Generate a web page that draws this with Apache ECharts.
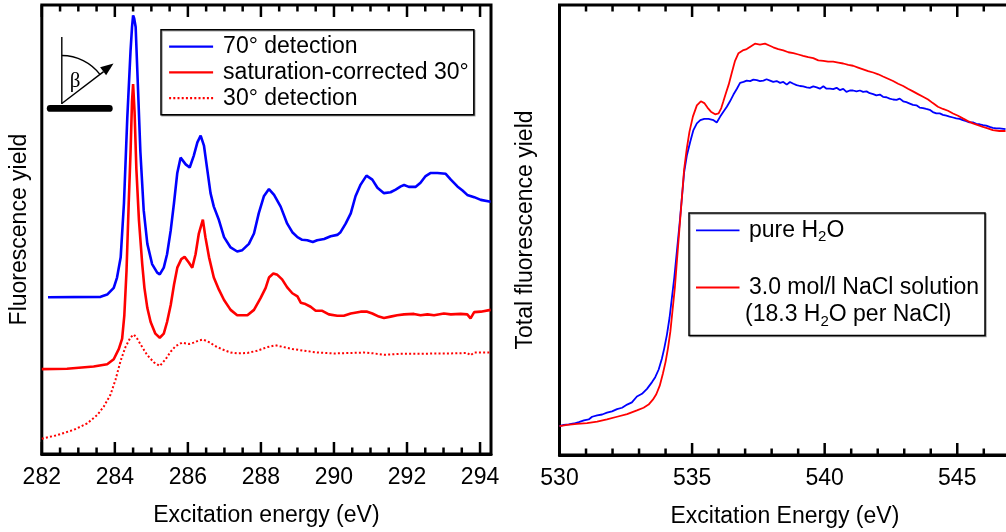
<!DOCTYPE html>
<html>
<head>
<meta charset="utf-8">
<script src="https://cdn.jsdelivr.net/npm/echarts/dist/echarts.min.js"></script>
<style>
  html, body { margin: 0; padding: 0; background: #fff; }
  #chart { width: 1006px; height: 532px; }
</style>
</head>
<body>
<div id="chart"></div>
<script>
// ---- Carbon K-edge (left panel): [excitation energy eV, yield a.u.] ----
const carbon70 = [
  [282.17,34.9],[283.61,35.0],[283.79,35.5],[283.97,37.0],[284.06,39.3],[284.16,43.8],[284.25,55.9],
  [284.34,74.7],[284.43,89.8],[284.47,95.0],[284.50,97.7],[284.53,97.0],[284.57,95.1],[284.63,82.3],
  [284.70,67.2],[284.79,54.3],[284.89,46.8],[285.02,42.3],[285.16,40.4],[285.23,40.0],[285.34,41.5],
  [285.43,44.5],[285.53,49.8],[285.62,55.9],[285.71,62.6],[285.80,66.0],[285.94,64.5],[286.05,63.8],
  [286.16,66.4],[286.26,69.4],[286.35,70.9],[286.44,68.7],[286.53,63.4],[286.62,58.1],[286.71,55.1],
  [286.85,52.1],[286.99,48.3],[287.17,46.0],[287.35,45.1],[287.49,45.4],[287.67,46.8],[287.81,49.1],
  [287.94,53.6],[288.08,57.4],[288.22,59.0],[288.36,57.7],[288.54,55.1],[288.72,51.3],[288.86,49.4],
  [289.00,48.3],[289.13,47.7],[289.27,47.6],[289.42,47.2],[289.54,47.6],[289.73,47.9],[289.91,48.5],
  [290.09,48.8],[290.18,49.4],[290.32,51.3],[290.46,53.6],[290.59,57.4],[290.73,60.0],[290.89,62.0],
  [291.05,61.1],[291.19,59.3],[291.37,58.1],[291.55,58.3],[291.69,58.9],[291.83,59.6],[291.92,59.9],
  [292.05,59.5],[292.24,59.5],[292.37,60.4],[292.51,61.9],[292.65,62.6],[292.83,62.6],[293.06,62.4],
  [293.20,61.1],[293.38,59.6],[293.52,58.7],[293.65,57.7],[293.84,57.2],[294.02,56.6],[294.29,56.2]
];
const carbonCorrected = [
  [282.00,18.9],[282.69,19.0],[283.42,19.5],[283.79,20.0],[283.97,21.1],[284.11,23.4],[284.20,25.7],
  [284.26,30.9],[284.32,40.8],[284.38,55.9],[284.43,67.2],[284.47,78.5],[284.50,82.4],[284.54,76.2],
  [284.59,63.4],[284.66,52.1],[284.75,42.3],[284.81,37.0],[284.89,32.5],[284.98,29.4],[285.11,26.8],
  [285.23,25.9],[285.34,26.8],[285.43,29.4],[285.53,33.2],[285.62,37.7],[285.71,41.5],[285.82,43.4],
  [285.91,43.9],[286.03,42.6],[286.12,41.5],[286.21,44.5],[286.30,49.1],[286.41,52.2],[286.48,48.3],
  [286.58,43.8],[286.71,39.3],[286.85,36.6],[286.99,34.3],[287.17,32.1],[287.35,30.9],[287.63,30.9],
  [287.81,32.1],[287.99,34.7],[288.13,37.0],[288.22,39.3],[288.34,40.2],[288.45,39.9],[288.58,38.9],
  [288.72,37.1],[288.86,35.8],[289.00,35.1],[289.09,33.7],[289.22,33.4],[289.36,32.8],[289.50,31.9],
  [289.68,31.9],[289.86,31.1],[290.09,30.8],[290.27,30.8],[290.46,31.3],[290.73,31.7],[290.91,31.7],
  [291.05,31.3],[291.23,30.6],[291.37,30.3],[291.55,30.6],[291.73,30.9],[291.92,31.1],[292.19,31.2],
  [292.37,30.9],[292.56,31.1],[292.74,30.9],[293.01,31.3],[293.20,31.1],[293.47,31.2],[293.65,31.1],
  [293.74,30.2],[293.84,31.6],[294.02,31.7],[294.29,32.1]
];
const carbon30 = [
  [282.00,3.4],[282.42,4.2],[282.88,5.4],[283.24,6.8],[283.52,8.7],[283.70,10.6],[283.88,13.2],
  [284.02,16.6],[284.16,20.8],[284.29,23.8],[284.43,26.0],[284.52,26.6],[284.61,25.7],[284.75,23.8],
  [284.89,22.0],[285.07,20.4],[285.23,19.6],[285.39,21.1],[285.53,22.8],[285.66,24.0],[285.84,24.8],
  [286.03,24.5],[286.16,24.8],[286.30,25.3],[286.42,25.5],[286.58,24.9],[286.76,24.0],[286.94,23.3],
  [287.17,22.6],[287.35,22.4],[287.63,22.5],[287.90,23.0],[288.17,23.8],[288.40,24.2],[288.63,23.8],
  [288.86,23.4],[289.18,23.0],[289.54,22.6],[290.00,22.4],[290.46,22.5],[290.82,22.6],[291.10,22.4],
  [291.37,22.1],[291.83,22.3],[292.37,22.3],[292.74,22.4],[293.20,22.4],[293.65,22.5],[293.74,22.0],
  [293.84,22.6],[294.29,22.6]
];

// ---- Oxygen K-edge (right panel): [excitation energy eV, total fluorescence yield a.u.] ----
const oxygenWater = [
  [530.00,6.4],[530.16,6.7],[530.35,6.8],[530.54,7.0],[530.73,7.3],[530.92,7.7],[531.10,7.9],
  [531.23,8.5],[531.42,8.8],[531.61,9.0],[531.79,9.4],[531.98,9.7],[532.17,10.2],[532.36,10.5],
  [532.55,11.2],[532.73,11.7],[532.92,13.0],[533.11,13.6],[533.30,14.7],[533.49,16.2],[533.61,17.3],
  [533.74,19.0],[533.86,21.4],[533.95,23.7],[534.05,26.7],[534.15,30.5],[534.24,35.0],[534.33,39.5],
  [534.43,45.5],[534.53,51.5],[534.62,57.5],[534.70,62.8],[534.80,66.5],[534.93,69.6],[535.05,72.2],
  [535.18,73.7],[535.31,74.4],[535.46,74.7],[535.62,74.7],[535.81,74.4],[535.93,73.9],[536.06,75.2],
  [536.18,76.3],[536.31,77.4],[536.43,78.6],[536.56,80.1],[536.69,81.4],[536.81,82.7],[536.94,82.9],
  [537.06,83.2],[537.19,83.1],[537.31,83.4],[537.44,83.3],[537.56,83.1],[537.69,83.2],[537.81,83.5],
  [537.94,83.2],[538.06,82.9],[538.19,83.1],[538.32,82.7],[538.44,82.9],[538.57,82.3],[538.69,82.9],
  [538.82,82.5],[538.94,82.2],[539.07,82.0],[539.19,81.9],[539.32,81.7],[539.44,81.6],[539.57,81.9],
  [539.70,81.7],[539.82,81.4],[539.95,81.95],[540.07,81.4],[540.20,81.4],[540.32,81.3],[540.45,81.6],
  [540.57,81.1],[540.70,81.35],[540.82,80.7],[540.95,81.0],[541.07,81.0],[541.20,80.8],[541.33,81.0],
  [541.45,80.7],[541.58,80.8],[541.70,80.4],[541.83,80.2],[541.95,79.9],[542.08,80.1],[542.20,79.6],
  [542.33,79.5],[542.45,79.2],[542.58,79.0],[542.71,78.9],[542.83,79.2],[542.96,78.6],[543.08,78.4],
  [543.21,78.1],[543.33,77.8],[543.46,77.7],[543.58,77.2],[543.71,77.1],[543.83,76.9],[543.96,76.7],
  [544.08,76.2],[544.21,75.9],[544.34,75.9],[544.46,75.6],[544.59,75.4],[544.71,75.2],[544.84,75.0],
  [544.96,74.8],[545.09,74.7],[545.21,74.4],[545.34,74.2],[545.46,73.9],[545.59,73.9],[545.72,73.6],
  [545.84,73.5],[545.97,73.3],[546.09,73.2],[546.22,72.9],[546.34,72.7],[546.47,72.6],[546.59,72.6],
  [546.82,72.4]
];
const oxygenNaCl = [
  [530.00,6.4],[530.29,6.7],[530.66,6.9],[531.04,7.1],[531.42,7.4],[531.79,7.9],[532.17,8.5],
  [532.55,9.1],[532.92,9.9],[533.17,10.5],[533.36,11.2],[533.52,12.3],[533.65,13.5],[533.78,15.4],
  [533.90,18.1],[534.00,20.7],[534.09,23.7],[534.18,27.4],[534.26,32.0],[534.35,37.2],[534.44,44.0],
  [534.53,50.8],[534.62,57.5],[534.70,63.5],[534.80,68.1],[534.90,71.8],[535.03,75.2],[535.18,77.7],
  [535.33,78.6],[535.46,78.2],[535.58,77.2],[535.71,76.3],[535.87,75.7],[536.00,75.9],[536.10,77.1],
  [536.18,78.6],[536.28,80.5],[536.38,82.3],[536.50,85.0],[536.62,87.6],[536.75,89.3],[536.91,89.9],
  [537.06,90.2],[537.21,90.8],[537.37,91.4],[537.56,91.2],[537.75,91.4],[537.91,91.0],[538.06,90.6],
  [538.25,90.2],[538.44,89.9],[538.63,89.5],[538.82,89.3],[539.01,89.0],[539.19,88.7],[539.38,88.4],
  [539.57,88.2],[539.76,87.7],[539.95,87.6],[540.13,87.4],[540.32,87.4],[540.51,87.2],[540.70,87.0],
  [540.89,86.7],[541.07,86.5],[541.26,86.1],[541.45,85.7],[541.64,85.3],[541.83,85.0],[542.02,84.6],
  [542.20,84.1],[542.39,83.6],[542.58,83.1],[542.77,82.5],[542.96,82.0],[543.14,81.4],[543.33,80.8],
  [543.52,80.2],[543.71,79.6],[543.90,79.0],[544.08,78.2],[544.27,77.4],[544.46,76.9],[544.65,76.5],
  [544.84,75.9],[545.03,75.4],[545.21,74.8],[545.40,74.2],[545.59,73.7],[545.78,73.3],[545.97,72.9],
  [546.15,72.6],[546.34,72.2],[546.59,72.0],[546.82,72.0]
];

// ---- Axis tick labels (major ticks) and minor tick spacing ----
const carbonTicks = [282, 284, 286, 288, 290, 292, 294];
const oxygenTicks = [530, 535, 540, 545];
const carbonMinorStep = 0.5;
const oxygenMinorStep = 1;

// ---- Series / legend names ----
const carbonNames = ['70° detection', 'saturation-corrected 30°', '30° detection'];
const oxygenNames = ['pure H₂O', '3.0 mol/l NaCl solution (18.3 H₂O per NaCl)'];

const FONT = 'Liberation Sans, Arial, Helvetica, sans-serif';
const FS = 23;
const BLUE = '#0000ff';
const RED = '#ff0000';
const INK = '#000';
const MAJOR_LEN = 12;
const MINOR_LEN = 6.5;

const chart = echarts.init(document.getElementById('chart'));

function labelledX(gridIndex, min, max, major, ticks, title) {
  return {
    gridIndex, type: 'value', min, max, interval: major, position: 'bottom',
    axisLine: { show: true, onZero: false, lineStyle: { color: INK, width: 3 } },
    axisTick: { show: false },
    splitLine: { show: false },
    axisLabel: {
      show: true, margin: 12, fontSize: FS, fontFamily: FONT, color: INK,
      formatter: v => (ticks.some(t => Math.abs(t - v) < 1e-6) ? String(Math.round(v)) : '')
    },
    name: title, nameLocation: 'middle', nameGap: 50,
    nameTextStyle: { fontSize: FS, fontFamily: FONT, color: INK }
  };
}

function hiddenY(gridIndex, title, nameGap) {
  return {
    gridIndex, type: 'value', min: 0, max: 100,
    axisLine: { show: false, onZero: false }, axisTick: { show: false },
    axisLabel: { show: false }, splitLine: { show: false },
    name: title, nameLocation: 'middle', nameGap,
    nameTextStyle: { fontSize: FS, fontFamily: FONT, color: INK }
  };
}

const richBase = { fontSize: FS, fontFamily: FONT, fill: INK };
const richSub = { fontSize: 15, fontFamily: FONT, fill: INK, padding: [14, 0, 0, 0] };

const option = {
  animation: false,
  grid: [
    { left: 41.8, top: 5, width: 449.2, height: 449, show: true, borderColor: INK, borderWidth: 3, outerBoundsMode: 'none' },
    { left: 559.5, top: 5, width: 450.8, height: 450, show: true, borderColor: INK, borderWidth: 3, outerBoundsMode: 'none' }
  ],
  xAxis: [
    labelledX(0, 282, 294.3, 2, carbonTicks, 'Excitation energy (eV)'),
    labelledX(1, 530, 547, 5, oxygenTicks, 'Excitation Energy (eV)')
  ],
  yAxis: [
    hiddenY(0, 'Fluorescence yield', 11),
    hiddenY(1, 'Total fluorescence yield', 22.5)
  ],
  legend: [{
    data: carbonNames,
    orient: 'vertical', left: 161, top: 29.7,
    itemWidth: 44, itemHeight: 14, itemGap: 2.75,
    padding: [5.5, 5, 5, 7],
    borderColor: INK, borderWidth: 1.5, borderRadius: 0, backgroundColor: '#fff',
    shadowColor: 'rgba(0,0,0,0.35)', shadowOffsetX: 1, shadowOffsetY: 1,
    selectedMode: false,
    itemStyle: { opacity: 0 },
    lineStyle: { width: 2.2 },
    textStyle: { fontSize: FS, fontFamily: FONT, color: INK, padding: [0, 0, 0, 5] }
  }],
  series: [
    { name: carbonNames[0], type: 'line', xAxisIndex: 0, yAxisIndex: 0, data: carbon70,
      symbol: 'none', lineStyle: { color: BLUE, width: 2.6 }, itemStyle: { color: BLUE } },
    { name: carbonNames[1], type: 'line', xAxisIndex: 0, yAxisIndex: 0, data: carbonCorrected,
      symbol: 'none', lineStyle: { color: RED, width: 2.6 }, itemStyle: { color: RED } },
    { name: carbonNames[2], type: 'line', xAxisIndex: 0, yAxisIndex: 0, data: carbon30,
      symbol: 'none', lineStyle: { color: RED, width: 2, type: [2, 2.2] }, itemStyle: { color: RED } },
    { name: oxygenNames[0], type: 'line', xAxisIndex: 1, yAxisIndex: 1, data: oxygenWater,
      symbol: 'none', lineStyle: { color: BLUE, width: 1.8 }, itemStyle: { color: BLUE } },
    { name: oxygenNames[1], type: 'line', xAxisIndex: 1, yAxisIndex: 1, data: oxygenNaCl,
      symbol: 'none', lineStyle: { color: RED, width: 1.8 }, itemStyle: { color: RED } }
  ],
  graphic: [
    // detection-geometry sketch: surface, normal, angle arc and outgoing arrow
    { type: 'line', shape: { x1: 61.8, y1: 37, x2: 61.8, y2: 104 }, style: { stroke: INK, lineWidth: 1.4 } },
    { type: 'line', shape: { x1: 50.2, y1: 108.4, x2: 109.3, y2: 108.4 }, style: { stroke: INK, lineWidth: 6.8, lineCap: 'round' } },
    { type: 'arc', shape: { cx: 61.8, cy: 103.5, r: 48, startAngle: -Math.PI / 2, endAngle: -0.645, clockwise: true },
      style: { stroke: INK, lineWidth: 1.4, fill: null } },
    { type: 'line', shape: { x1: 61.8, y1: 103.5, x2: 103.6, y2: 71.6 }, style: { stroke: INK, lineWidth: 1.4 } },
    { type: 'polygon', shape: { points: [[113.5, 63.5], [106.1, 75.3], [100.1, 67.3]] }, style: { fill: INK } },
    { type: 'text', x: 75, y: 81.5,
      style: { text: 'β', fontSize: 21, fontFamily: 'Liberation Serif, DejaVu Serif, serif', fill: INK, align: 'center', verticalAlign: 'middle' } },

    // oxygen-edge legend
    { type: 'rect', shape: { x: 689, y: 213, width: 296, height: 122.5 },
      style: { fill: '#fff', stroke: INK, lineWidth: 1.5, shadowColor: 'rgba(0,0,0,0.35)', shadowOffsetX: 1, shadowOffsetY: 1 } },
    { type: 'line', shape: { x1: 696, y1: 230.3, x2: 739.5, y2: 230.3 }, style: { stroke: BLUE, lineWidth: 1.8 } },
    { type: 'text', x: 749, y: 230.3,
      style: { text: '{a|pure H}{s|2}{a|O}', align: 'left', verticalAlign: 'middle', rich: { a: richBase, s: richSub } } },
    { type: 'line', shape: { x1: 696, y1: 287.5, x2: 739.5, y2: 287.5 }, style: { stroke: RED, lineWidth: 1.8 } },
    { type: 'text', x: 749, y: 287.5,
      style: { text: '3.0 mol/l NaCl solution', fontSize: FS, fontFamily: FONT, fill: INK, align: 'left', verticalAlign: 'middle' } },
    { type: 'text', x: 745, y: 314.6,
      style: { text: '{a|(18.3 H}{s|2}{a|O per NaCl)}', align: 'left', verticalAlign: 'middle', rich: { a: richBase, s: richSub } } }
  ]
};

try { chart.setOption(option); } catch (e) { console.error(e); }

// Inward tick marks on the bottom and top frame edges. Positions come from each
// panel's own x scale (convertToPixel); the marks sit on the chart's zrender layer.
const zr = chart.getZr();
function frameTicks(gridIndex, majors, minorStep, min, max) {
  const finder = { gridIndex };
  const yBottom = chart.convertToPixel(finder, [min, 0])[1];
  const yTop = chart.convertToPixel(finder, [min, 100])[1];
  const isMajor = v => majors.some(m => Math.abs(m - v) < 1e-6);
  const n = Math.round((max - min) / minorStep);
  for (let i = 0; i <= n; i++) {
    const v = +(min + i * minorStep).toFixed(4);
    const len = isMajor(v) ? MAJOR_LEN : MINOR_LEN;
    const x = chart.convertToPixel(finder, [v, 0])[0];
    [[yBottom, -len], [yTop, len]].forEach(([y0, d]) => {
      zr.add(new echarts.graphic.Line({
        z: 100, silent: true,
        shape: { x1: x, y1: y0, x2: x, y2: y0 + d },
        style: { stroke: INK, lineWidth: 2.5 }
      }));
    });
  }
}
try { frameTicks(0, carbonTicks, carbonMinorStep, 282, 294); } catch (e) { console.error(e); }
try { frameTicks(1, oxygenTicks, oxygenMinorStep, 530, 547); } catch (e) { console.error(e); }
</script>
</body>
</html>
